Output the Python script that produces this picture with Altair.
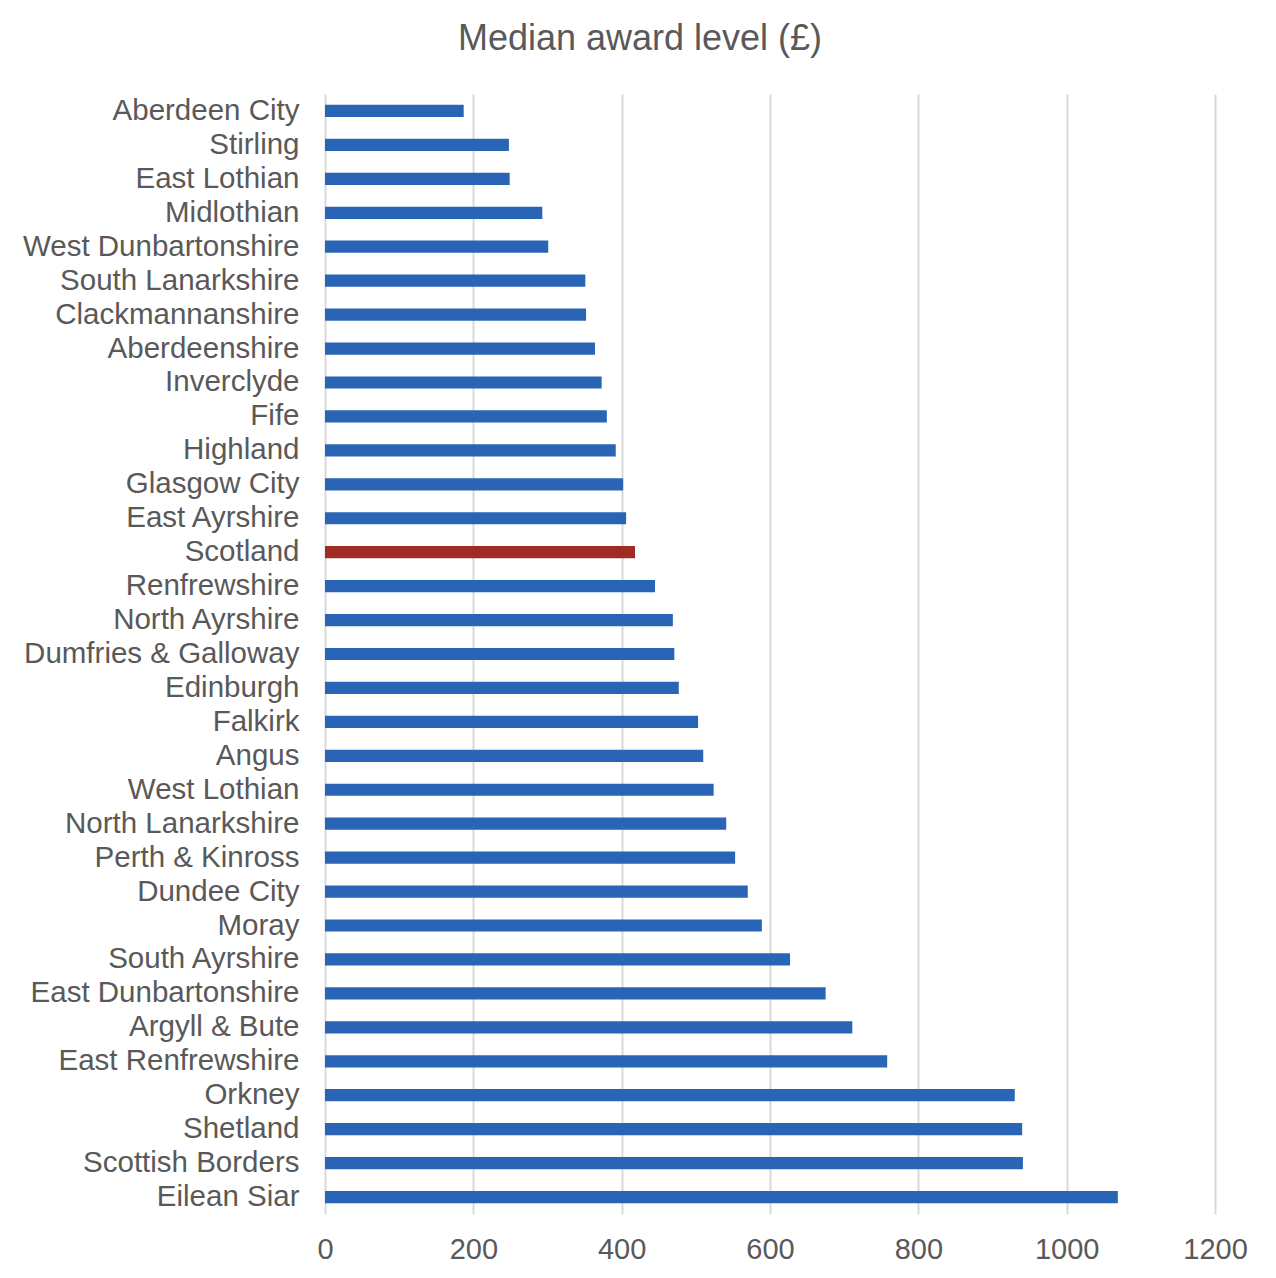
import altair as alt
import pandas as pd

areas = [
    "Aberdeen City", "Stirling", "East Lothian", "Midlothian", "West Dunbartonshire",
    "South Lanarkshire", "Clackmannanshire", "Aberdeenshire", "Inverclyde", "Fife",
    "Highland", "Glasgow City", "East Ayrshire", "Scotland", "Renfrewshire",
    "North Ayrshire", "Dumfries & Galloway", "Edinburgh", "Falkirk", "Angus",
    "West Lothian", "North Lanarkshire", "Perth & Kinross", "Dundee City", "Moray",
    "South Ayrshire", "East Dunbartonshire", "Argyll & Bute", "East Renfrewshire",
    "Orkney", "Shetland", "Scottish Borders", "Eilean Siar",
]
median_award = [
    187, 248, 249, 293, 301,
    351, 352, 364, 373, 380,
    392, 402, 406, 418, 445,
    469, 471, 477, 503, 510,
    524, 541, 553, 570, 589,
    627, 675, 711, 758,
    930, 940, 941, 1069,
]

df = pd.DataFrame({"area": areas, "award": median_award})

font = "Liberation Sans"
grey = "#595959"

chart = alt.Chart(df).mark_bar().encode(
    y=alt.Y(
        "area:N",
        sort=areas,
        title=None,
        scale=alt.Scale(paddingInner=0.64, paddingOuter=0.32),
        axis=alt.Axis(
            labelFont=font, labelFontSize=29.5, labelColor=grey,
            ticks=False, tickSize=0, domain=False, labelPadding=26,
            grid=False, labelLimit=400,
        ),
    ),
    x=alt.X(
        "award:Q",
        title=None,
        scale=alt.Scale(domain=[0, 1200], nice=False),
        axis=alt.Axis(
            values=[0, 200, 400, 600, 800, 1000, 1200],
            format="d",
            labelFont=font, labelFontSize=29, labelColor=grey,
            ticks=False, tickSize=0, domain=False, labelPadding=21,
            grid=True, gridColor="#D9D9D9", gridWidth=2,
            labelFlush=False,
        ),
    ),
    color=alt.condition(
        alt.datum.area == "Scotland",
        alt.value("#A02B25"),
        alt.value("#2A64B5"),
    ),
).properties(
    width=890,
    height=1120,
    title=alt.Title(
        "Median award level (£)",
        font=font, fontSize=36, fontWeight="normal", color=grey,
        anchor="middle", dx=-130, offset=36,
    ),
    autosize=alt.AutoSizeParams(type="none"),
    padding={"left": 317, "top": 86, "right": 50, "bottom": 54},
).configure_view(stroke=None)

chart.save("out.html", embed_options={"renderer": "svg", "actions": False})
